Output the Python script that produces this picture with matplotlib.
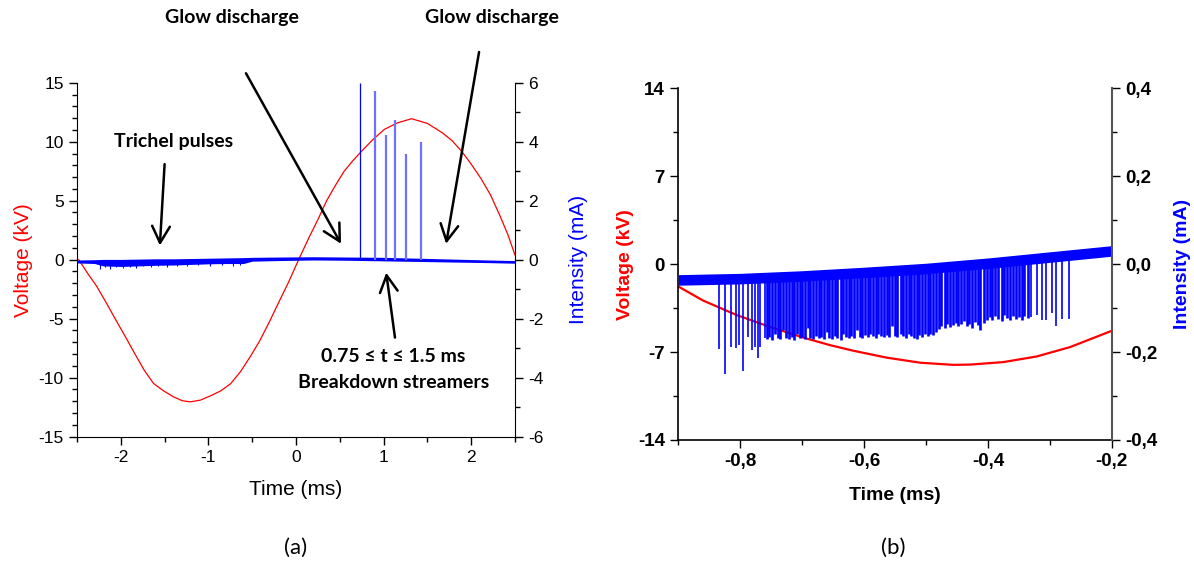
import numpy as np
import matplotlib

matplotlib.use("Agg")
import matplotlib.pyplot as plt
from matplotlib.ticker import MultipleLocator, FuncFormatter

plt.rcParams["font.family"] = ["Liberation Sans", "DejaVu Sans"]
plt.rcParams["axes.unicode_minus"] = False

NOTE_FONT = ["Lato", "DejaVu Sans"]

# ---- panel (a): full period ----
volt_t_a = [-2.48, -2.375, -2.28, -2.17, -2.06, -1.95, -1.84, -1.73, -1.625, -1.515,
            -1.405, -1.30, -1.207, -1.09, -0.965, -0.855, -0.745, -0.635, -0.526, -0.416,
            -0.306, -0.196, -0.086, 0.03, 0.15, 0.25, 0.35, 0.45, 0.55, 0.65,
            0.75, 0.88, 1.01, 1.16, 1.32, 1.50, 1.67, 1.78, 1.89, 2.0,
            2.11, 2.22, 2.33, 2.42, 2.5]
volt_v_a = [0.0, -1.2, -2.2, -3.6, -5.07, -6.5, -7.97, -9.4, -10.5, -11.1,
            -11.6, -11.95, -12.05, -11.9, -11.5, -11.1, -10.5, -9.5, -8.26, -6.9,
            -5.3, -3.6, -1.92, 0.0, 1.9, 3.4, 5.0, 6.3, 7.5, 8.4,
            9.2, 10.2, 11.05, 11.6, 11.95, 11.55, 10.76, 10.1, 9.2, 8.1,
            6.9, 5.5, 3.7, 2.1, 0.4]

band_t_a = [-2.5, -2.3, -2.2, -2.0, -1.8, -1.6, -1.4, -1.2, -1.0, -0.8,
            -0.6, -0.5, -0.2, 0.2, 0.6, 1.0, 1.4, 1.8, 2.2, 2.5]
band_hi_a = [-0.01, 0.0, 0.01, 0.01, 0.02, 0.03, 0.03, 0.04, 0.05, 0.06,
             0.07, 0.08, 0.09, 0.10, 0.09, 0.08, 0.05, 0.02, -0.01, -0.03]
band_lo_a = [-0.11, -0.13, -0.21, -0.23, -0.21, -0.19, -0.18, -0.16, -0.14, -0.13,
             -0.13, -0.05, -0.03, -0.01, -0.02, -0.04, -0.06, -0.08, -0.10, -0.12]
noise_t_a = [-2.24, -2.18, -2.12, -2.05, -1.98, -1.90, -1.83, -1.75, -1.66,
             -1.58, -1.47, -1.36, -1.25, -1.12, -0.98, -0.85, -0.72, -0.64]
noise_d_a = [-0.30, -0.26, -0.32, -0.25, -0.28, -0.24, -0.27, -0.22, -0.25,
             -0.21, -0.24, -0.20, -0.22, -0.19, -0.20, -0.18, -0.22, -0.17]

streamer_t = [0.735, 0.90, 1.03, 1.13, 1.26, 1.43]
streamer_i = [6.0, 5.73, 4.24, 4.73, 3.58, 3.98]

# ---- panel (b): zoom on the negative half-period ----
volt_t_b = [-0.899, -0.86, -0.806, -0.752, -0.698, -0.655, -0.617, -0.563, -0.509,
            -0.456, -0.429, -0.375, -0.321, -0.267, -0.2]
volt_v_b = [-1.81, -2.9, -4.05, -5.0, -5.85, -6.45, -6.9, -7.45, -7.85,
            -8.02, -8.0, -7.8, -7.35, -6.6, -5.31]

base_t_b = [-0.9, -0.8, -0.7, -0.6, -0.5, -0.4, -0.3, -0.2]
base_i_b = [-0.036, -0.033, -0.027, -0.019, -0.010, 0.002, 0.016, 0.030]
noise_half_b = 0.012

# isolated early pulses
early_t_b = [-0.834, -0.825, -0.815, -0.807, -0.802, -0.795, -0.788, -0.781, -0.776,
             -0.772, -0.768, -0.760]
early_d_b = [-0.192, -0.251, -0.188, -0.190, -0.184, -0.243, -0.165, -0.196, -0.188,
             -0.213, -0.188, -0.169]
# dense Trichel train
dense_t_b = [
    -0.757, -0.753, -0.748, -0.744, -0.739, -0.735, -0.731, -0.726, -0.722, -0.717,
    -0.713, -0.709, -0.704, -0.700, -0.695, -0.691, -0.687, -0.682, -0.678, -0.673,
    -0.669, -0.665, -0.660, -0.656, -0.651, -0.647, -0.643, -0.638, -0.634, -0.629,
    -0.625, -0.621, -0.616, -0.612, -0.607, -0.603, -0.599, -0.594, -0.590, -0.585,
    -0.581, -0.577, -0.572, -0.568, -0.563, -0.559, -0.555, -0.550, -0.546, -0.541,
    -0.537, -0.533, -0.528, -0.524, -0.519, -0.515, -0.511, -0.506, -0.502, -0.497,
    -0.493, -0.488, -0.484,
    -0.479, -0.475, -0.470, -0.466, -0.461, -0.457, -0.452, -0.448, -0.443, -0.439,
    -0.434, -0.430, -0.425, -0.421, -0.416, -0.412, -0.407,
    -0.402, -0.397, -0.393, -0.388, -0.383, -0.378, -0.374, -0.369, -0.364, -0.359,
    -0.355, -0.350, -0.345, -0.341, -0.336,
]
dense_d_b = [
    -0.170, -0.166, -0.172, -0.160, -0.168, -0.171, -0.150, -0.167, -0.170, -0.165,
    -0.172, -0.158, -0.169, -0.166, -0.171, -0.145, -0.168, -0.170, -0.163, -0.169,
    -0.166, -0.171, -0.155, -0.167, -0.170, -0.164, -0.168, -0.172, -0.160, -0.166,
    -0.169, -0.163, -0.167, -0.150, -0.165, -0.168, -0.162, -0.166, -0.160, -0.164,
    -0.167, -0.158, -0.163, -0.166, -0.161, -0.165, -0.140, -0.163, -0.166, -0.160,
    -0.164, -0.167, -0.158, -0.163, -0.168, -0.171, -0.162, -0.165, -0.160, -0.164,
    -0.158, -0.162, -0.155,
    -0.148, -0.140, -0.145, -0.136, -0.142, -0.138, -0.133, -0.140, -0.136, -0.130,
    -0.141, -0.137, -0.145, -0.132, -0.139, -0.150, -0.135,
    -0.128, -0.120, -0.126, -0.118, -0.124, -0.129, -0.115, -0.123, -0.127, -0.119,
    -0.125, -0.121, -0.128, -0.117, -0.122,
]
# last isolated pulses
late_t_b = [-0.331, -0.321, -0.313, -0.306, -0.297, -0.290, -0.281, -0.269]
late_d_b = [-0.120, -0.116, -0.127, -0.127, -0.112, -0.140, -0.124, -0.124]


def comma(fmt):
    return FuncFormatter(lambda v, _: fmt.format(v).replace(".", ","))


def style_axes(ax, ax2, tick_kw):
    ax.spines["top"].set_visible(False)
    ax2.spines["top"].set_visible(False)
    ax2.spines["left"].set_visible(False)
    ax2.spines["bottom"].set_visible(False)
    ax.spines["right"].set_visible(False)
    for a in (ax, ax2):
        a.tick_params(which="major", direction="out", length=6, width=1, **tick_kw)
        a.tick_params(which="minor", direction="out", length=3.5, width=1)


def pulses(axis, times, depths, lw):
    top = np.interp(times, base_t_b, base_i_b)
    axis.vlines(times, depths, top, color="#0000ff", lw=lw)


fig = plt.figure(figsize=(11.94, 5.78), dpi=100)

# ================= (a) =================
ax = fig.add_axes([0.0645, 0.2445, 0.3668, 0.6124])
ax2 = ax.twinx()
style_axes(ax, ax2, dict(labelsize=12.5))

ax.plot(volt_t_a, volt_v_a, color="#ff0000", lw=0.9)
ax2.fill_between(band_t_a, band_lo_a, band_hi_a, color="#0000ff", lw=0)
ax2.vlines(noise_t_a, noise_d_a, 0, color="#0000ff", lw=0.8)
ax2.vlines(streamer_t[:1], 0, streamer_i[:1], color="#0000ff", lw=0.9)
ax2.vlines(streamer_t[1:], 0, streamer_i[1:], color="#7070ff", lw=1.6)

ax.set_xlim(-2.5, 2.5)
ax.set_ylim(-15, 15)
ax2.set_ylim(-6, 6)
ax.xaxis.set_major_locator(MultipleLocator(1))
ax.xaxis.set_minor_locator(MultipleLocator(0.5))
ax.yaxis.set_major_locator(MultipleLocator(5))
ax.yaxis.set_minor_locator(MultipleLocator(1))
ax2.yaxis.set_major_locator(MultipleLocator(2))
ax2.yaxis.set_minor_locator(MultipleLocator(1))
ax.set_xlabel("Time (ms)", fontsize=15, labelpad=11)
ax.set_ylabel("Voltage (kV)", fontsize=15, color="#ff0000", labelpad=4)
ax2.set_ylabel("Intensity (mA)", fontsize=15, color="#0000ff", labelpad=18)

note = dict(fontsize=14, fontweight="bold", family=NOTE_FONT, ha="center", va="center")
arrow = dict(arrowstyle="->,head_length=0.6,head_width=0.32", color="black", lw=1.8,
             mutation_scale=20, shrinkA=0, shrinkB=0)
ax.text(-1.40, 10.0, "Trichel pulses", **note)
ax.annotate("", xy=(-1.554, 1.2), xytext=(-1.50, 8.1), arrowprops=arrow, annotation_clip=False)
ax.annotate("", xy=(0.514, 1.35), xytext=(-0.571, 15.8), arrowprops=arrow, annotation_clip=False)
ax.annotate("", xy=(1.714, 1.35), xytext=(2.09, 17.6), arrowprops=arrow, annotation_clip=False)
ax.annotate("", xy=(1.03, -1.1), xytext=(1.13, -6.6), arrowprops=arrow, annotation_clip=False)
ax.text(1.11, -8.2, "0.75 ≤ t ≤ 1.5 ms", **note)
ax.text(1.11, -10.4, "Breakdown streamers", **note)
fig.text(232 / 1194, 1 - 18 / 578, "Glow discharge", **note)
fig.text(492 / 1194, 1 - 18 / 578, "Glow discharge", **note)

# ================= (b) =================
bx = fig.add_axes([0.5681, 0.2388, 0.3630, 0.6085])
bx2 = bx.twinx()
style_axes(bx, bx2, dict(labelsize=13.5))
bx2.spines["right"].set_color("#555555")
bx2.spines["right"].set_linewidth(1.5)
bx.spines["left"].set_linewidth(1.2)
bx.spines["bottom"].set_linewidth(1.2)

bx.plot(volt_t_b, volt_v_b, color="#ff0000", lw=1.6)
base_hi = [b + noise_half_b for b in base_i_b]
base_lo = [b - noise_half_b for b in base_i_b]
bx2.fill_between(base_t_b, base_lo, base_hi, color="#0000ff", lw=0)
pulses(bx2, early_t_b, early_d_b, 1.2)
pulses(bx2, dense_t_b, dense_d_b, 1.9)
pulses(bx2, late_t_b, late_d_b, 1.2)

bx.set_xlim(-0.9, -0.2)
bx.set_ylim(-14, 14)
bx2.set_ylim(-0.4, 0.4)
bx.xaxis.set_major_locator(MultipleLocator(0.2))
bx.xaxis.set_minor_locator(MultipleLocator(0.1))
bx.yaxis.set_major_locator(MultipleLocator(7))
bx.yaxis.set_minor_locator(MultipleLocator(3.5))
bx2.yaxis.set_major_locator(MultipleLocator(0.2))
bx2.yaxis.set_minor_locator(MultipleLocator(0.1))
bx.xaxis.set_major_formatter(comma("{:.1f}"))
bx2.yaxis.set_major_formatter(comma("{:.1f}"))
bx.yaxis.set_major_formatter(FuncFormatter(lambda v, _: f"{v:.0f}"))
for lab in bx.get_xticklabels() + bx.get_yticklabels() + bx2.get_yticklabels():
    lab.set_fontweight("bold")
bx.set_xlabel("Time (ms)", fontsize=14, fontweight="bold", labelpad=12)
bx.set_ylabel("Voltage (kV)", fontsize=14, fontweight="bold", color="#ff0000", labelpad=3)
bx2.set_ylabel("Intensity (mA)", fontsize=14, fontweight="bold", color="#0000ff", labelpad=12)

lab_font = dict(fontsize=16, family=NOTE_FONT, ha="center", va="center")
fig.text(296 / 1194, 1 - 548 / 578, "(a)", **lab_font)
fig.text(893 / 1194, 1 - 548 / 578, "(b)", **lab_font)

fig.savefig("out.png", dpi=100)
